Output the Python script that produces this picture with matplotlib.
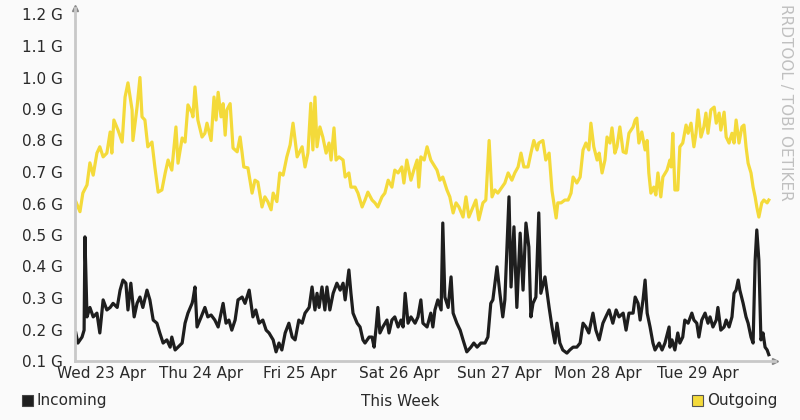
import matplotlib
matplotlib.use("Agg")
import matplotlib.pyplot as plt
from matplotlib.patches import Rectangle

# --- DONNÉES (heures depuis le début du graphe, débit en G) ---
out_hours = [0.2, 1.2, 1.9, 2.9, 3.6, 4.4, 5.3, 6.0, 6.8, 7.7, 8.5, 8.9, 9.4, 10.4, 11.4,
             12.1, 12.8, 13.8, 14.0, 15.0, 15.7, 16.2, 16.9, 17.6, 18.6, 19.3, 20.1, 21.0,
             21.8, 22.5, 23.4, 24.4, 24.9, 25.9, 26.6, 27.3, 28.3,
             28.5, 29.0, 29.7, 30.7, 31.4, 31.9, 32.9, 33.6, 34.1, 34.6, 35.3, 35.8, 36.3,
             36.7, 37.5, 38.2, 39.2, 39.9, 40.4, 40.8, 41.8, 42.8, 43.5, 44.2, 45.2, 45.9,
             46.6, 47.4, 47.9, 48.8, 49.5, 50.3, 51.2, 52.0, 52.7, 53.7, 54.9, 55.6, 56.3, 57.0,
             57.5, 58.0, 58.5, 59.2, 59.9, 60.7, 61.4, 61.9, 62.6, 63.1, 63.8, 64.8, 65.3,
             66.2, 66.7, 67.7, 68.4, 69.4, 70.1, 70.8, 71.8, 72.5, 73.2, 74.2, 74.9, 75.7,
             76.6, 77.3, 78.1, 79.0, 79.5, 80.2, 81.2, 81.9, 82.7, 83.1, 83.6, 84.4, 85.1, 86.0,
             87.5, 88.2, 88.9, 89.9, 90.6, 91.4, 92.1, 92.8, 93.8, 94.5, 95.2, 96.2, 96.9,
             97.6, 98.6, 99.3, 100.1, 100.8, 101.5, 102.2, 103.2, 103.9, 104.7, 105.6, 106.3,
             107.1, 107.8, 108.5, 109.5, 110.2, 110.9, 111.7, 112.1, 113.1, 113.8, 114.6, 115.3,
             116.3, 116.7, 117.5, 118.4, 119.2, 119.9, 120.4, 121.3, 122.1, 122.8, 123.5, 124.2,
             124.7, 125.4, 126.2, 126.7, 127.4, 128.1, 128.6, 129.3, 129.8, 130.5, 131.0, 131.7,
             132.5, 133.2, 133.9, 134.9, 135.4, 135.8, 136.3, 137.0, 137.8, 138.3, 138.7, 139.2,
             139.9, 140.4, 140.9, 141.6, 142.1, 143.1, 143.8,
             144.1, 144.5, 145.0, 145.7, 146.2, 146.9, 147.7, 148.2, 148.9, 149.6, 150.1, 150.6,
             151.3, 152.0, 152.5, 153.0, 153.7, 154.5, 155.0, 155.7, 156.1, 156.9, 157.4, 158.1,
             158.8, 159.3, 159.8, 160.5, 161.2, 161.7, 162.2, 162.7, 163.4, 163.9, 164.4, 164.8,
             165.3, 166.0, 166.5, 167.3, 167.7]
outgoing = [0.606, 0.574, 0.633, 0.659, 0.729, 0.690, 0.760, 0.780, 0.748, 0.760, 0.827, 0.760,
            0.865, 0.833, 0.795, 0.938, 0.983, 0.897, 0.800, 0.906, 1.000, 0.875, 0.865, 0.780,
            0.795, 0.716, 0.636, 0.643, 0.697, 0.738, 0.706, 0.843, 0.728, 0.808, 0.795, 0.913,
            0.887,
            0.875, 0.970, 0.865, 0.811, 0.823, 0.855, 0.800, 0.938, 0.865, 0.953, 0.875, 0.917,
            0.817, 0.897, 0.917, 0.776, 0.764, 0.811, 0.760, 0.716, 0.713, 0.633, 0.674, 0.668,
            0.589, 0.621, 0.606, 0.580, 0.633, 0.606, 0.697, 0.690, 0.748, 0.786, 0.855, 0.748,
            0.780, 0.716, 0.760, 0.918,
            0.770, 0.938, 0.780, 0.843, 0.811, 0.760, 0.792, 0.738, 0.840, 0.738, 0.748, 0.738,
            0.684, 0.697, 0.652, 0.652, 0.633, 0.589, 0.611, 0.636, 0.611, 0.602, 0.589, 0.621,
            0.633, 0.674, 0.652, 0.706, 0.697, 0.716, 0.665, 0.738, 0.674, 0.706, 0.738, 0.652,
            0.748, 0.738, 0.780, 0.738,
            0.706, 0.674, 0.684, 0.643, 0.621, 0.570, 0.602, 0.589, 0.557, 0.621, 0.557, 0.589,
            0.611, 0.548, 0.602, 0.611, 0.800, 0.621, 0.643, 0.633, 0.652, 0.665, 0.697, 0.674,
            0.697, 0.716, 0.760, 0.716, 0.716, 0.760, 0.800, 0.770, 0.792, 0.800, 0.738, 0.760,
            0.640,
            0.554, 0.602, 0.602, 0.611, 0.611, 0.633, 0.684, 0.665, 0.684, 0.770, 0.792, 0.770,
            0.855, 0.780, 0.738, 0.760, 0.697, 0.738, 0.811, 0.792, 0.840, 0.760, 0.780, 0.843,
            0.764, 0.760, 0.823, 0.843, 0.865, 0.871, 0.792, 0.827, 0.770, 0.800, 0.697, 0.633,
            0.652, 0.627, 0.697, 0.621, 0.684, 0.706, 0.738,
            0.716, 0.823, 0.643, 0.643, 0.780, 0.792, 0.849, 0.823, 0.855, 0.780, 0.823, 0.897,
            0.811, 0.843, 0.887, 0.823, 0.897, 0.906, 0.855, 0.887, 0.833, 0.890, 0.811, 0.792,
            0.823, 0.792, 0.865, 0.792, 0.843, 0.849, 0.780, 0.728, 0.697, 0.652, 0.621, 0.589,
            0.557, 0.602, 0.611, 0.602, 0.611]

in_hours = [0.2, 0.7, 1.7, 2.2, 2.4, 2.9, 3.6, 4.4, 5.3, 6.0, 6.8, 7.7, 8.5, 9.2, 10.2, 10.9,
            11.6, 12.3, 12.8, 13.5, 14.3, 15.0, 15.7, 16.4, 17.4, 18.1, 18.9, 19.8, 20.5, 21.3,
            22.2, 23.0, 23.4, 24.2, 24.9, 25.9, 26.6, 27.3, 28.3,
            28.5, 29.0, 29.5, 30.5, 31.4, 32.1, 32.9, 33.8, 34.6, 35.3, 35.8, 36.5, 37.2, 37.9,
            38.7, 39.4, 40.4, 41.1, 42.1, 43.0, 43.7, 44.5, 45.4, 46.2, 46.9, 47.9, 48.6, 49.3,
            50.0, 50.8, 51.7, 52.5, 53.2, 54.1, 54.9, 55.6, 56.6, 57.3,
            58.0, 58.5, 59.0, 59.7, 60.4, 60.9, 61.6, 62.4, 63.3, 64.1, 64.8, 65.3, 66.2, 66.7,
            67.2, 68.2, 68.9, 69.6, 70.1, 71.1, 71.8, 72.3, 72.8, 73.2, 73.7, 74.4, 75.4, 75.9,
            76.6, 77.3, 78.1, 78.8, 79.3, 79.8, 80.5, 81.2, 82.2, 82.9, 83.6, 84.1, 85.1, 86.0,
            86.5, 87.0, 87.7, 88.5, 88.9, 89.4, 90.2, 90.9, 91.4, 92.3, 93.1, 93.8, 94.7, 95.7,
            96.4, 97.2, 98.1, 99.1, 99.8, 100.5, 101.0, 102.0, 102.7, 103.4, 103.9, 104.9,
            105.4, 106.1, 106.8, 107.6, 108.3, 109.0, 109.7, 110.2, 110.7, 111.4, 112.1, 112.6,
            113.6, 114.6, 115.3,
            116.0, 116.5, 117.2, 117.9, 118.9, 119.6, 120.4, 121.3, 122.1, 122.8, 123.5, 124.2,
            125.2, 125.9, 126.7, 127.6, 128.3, 129.1, 130.0, 130.8, 131.5, 132.5, 133.2, 133.9,
            134.9, 135.4, 136.1, 136.6, 137.3, 137.8, 138.3, 139.0, 139.7, 140.2, 141.2, 141.9,
            142.6, 143.6,
            143.8, 144.3, 145.0, 145.7, 146.2, 146.9, 147.4, 148.2, 149.1, 149.6, 150.3, 150.8,
            151.5, 152.3, 153.0, 153.5, 154.2, 155.0, 155.4, 156.1, 156.9, 157.4, 158.1, 158.8,
            159.3, 159.8, 160.3, 160.7, 161.5, 162.2, 162.7, 163.4, 163.9, 164.4, 164.8, 165.3,
            165.8, 166.3, 166.8, 167.3, 167.7]
incoming = [0.189, 0.157, 0.176, 0.198, 0.494, 0.240, 0.270, 0.240, 0.252, 0.189, 0.294, 0.262,
            0.270, 0.283, 0.270, 0.325, 0.357, 0.347, 0.262, 0.347, 0.240, 0.283, 0.303, 0.270,
            0.325, 0.294, 0.230, 0.220, 0.189, 0.157, 0.167, 0.144, 0.176, 0.135, 0.144, 0.157,
            0.220, 0.252, 0.283,
            0.294, 0.335, 0.208, 0.240, 0.270, 0.240, 0.246, 0.230, 0.208, 0.252, 0.283, 0.220,
            0.230, 0.198, 0.230, 0.294, 0.303, 0.283, 0.325, 0.240, 0.262, 0.220, 0.230, 0.198,
            0.189, 0.167, 0.129, 0.157, 0.135, 0.189, 0.220, 0.176, 0.167, 0.230, 0.220, 0.252,
            0.270, 0.335,
            0.262, 0.315, 0.270, 0.335, 0.262, 0.335, 0.262, 0.315, 0.347, 0.325, 0.347, 0.294,
            0.389, 0.315, 0.252, 0.220, 0.208, 0.167, 0.157, 0.176, 0.176, 0.144, 0.208, 0.270,
            0.189, 0.208, 0.230, 0.189, 0.230, 0.240, 0.208, 0.230, 0.208, 0.315, 0.220, 0.240,
            0.220, 0.240, 0.294, 0.220, 0.208, 0.252,
            0.208, 0.262, 0.294, 0.262, 0.538, 0.303, 0.270, 0.367, 0.252, 0.220, 0.198, 0.167,
            0.129, 0.144, 0.157, 0.144, 0.157, 0.157, 0.176, 0.283, 0.294, 0.399, 0.315, 0.240,
            0.294, 0.621, 0.335, 0.526, 0.270, 0.506, 0.325, 0.538, 0.462, 0.240, 0.283, 0.303,
            0.570, 0.315, 0.367, 0.270, 0.208,
            0.157, 0.220, 0.157, 0.135, 0.125, 0.135, 0.144, 0.144, 0.157, 0.220, 0.208, 0.189,
            0.252, 0.198, 0.167, 0.220, 0.240, 0.262, 0.220, 0.262, 0.240, 0.252, 0.198, 0.252,
            0.252, 0.303, 0.283, 0.230, 0.294, 0.357, 0.252, 0.208, 0.157, 0.135, 0.157, 0.135,
            0.157, 0.208,
            0.144, 0.167, 0.135, 0.189, 0.157, 0.176, 0.230, 0.220, 0.252, 0.230, 0.220, 0.176,
            0.230, 0.252, 0.220, 0.240, 0.208, 0.230, 0.270, 0.198, 0.208, 0.230, 0.208, 0.240,
            0.315, 0.325, 0.357, 0.325, 0.283, 0.240, 0.220, 0.176, 0.157, 0.420, 0.516, 0.420,
            0.167, 0.189, 0.144, 0.135, 0.120]

day_labels = ["Wed 23 Apr", "Thu 24 Apr", "Fri 25 Apr", "Sat 26 Apr",
              "Sun 27 Apr", "Mon 28 Apr", "Tue 29 Apr"]
first_midnight = 6.45  # le graphe commence vers 17h30 le mardi
y_ticks = [0.1, 0.2, 0.3, 0.4, 0.5, 0.6, 0.7, 0.8, 0.9, 1.0, 1.1, 1.2]

# --- COULEURS ---
bg = "#fafafa"
c_in = "#1e1e1e"
c_out = "#f4da3a"
c_axis = "#c8c8c8"
c_text = "#2a2a2a"
fs = 11

fig = plt.figure(figsize=(8, 4.2), dpi=100, facecolor=bg)
ax = fig.add_axes([75 / 800, 1 - 361 / 420, 700 / 800, 353 / 420])
ax.set_facecolor(bg)

ax.plot(out_hours, outgoing, color=c_out, lw=2.3, solid_joinstyle="round")
ax.plot(in_hours, incoming, color=c_in, lw=2.3, solid_joinstyle="round")

ax.set_xlim(0, 169.2)
ax.set_ylim(0.1, 0.1 + 353 / 315 * 1.0)

ax.set_yticks(y_ticks)
ax.set_yticklabels([f"{v:.1f} G" for v in y_ticks])
ax.set_xticks([first_midnight + 24 * i for i in range(len(day_labels))])
ax.set_xticklabels(day_labels)
ax.tick_params(axis="y", length=0, pad=8.5, labelsize=fs, labelcolor=c_text)
ax.tick_params(axis="x", length=0, pad=3.5, labelsize=fs, labelcolor=c_text)

for side in ["top", "right"]:
    ax.spines[side].set_visible(False)
for side in ["left", "bottom"]:
    ax.spines[side].set_color(c_axis)
    ax.spines[side].set_linewidth(2)

# petites flèches au bout des axes
ax.plot([0], [1], marker="^", color="#8a8a8a", markersize=5, transform=ax.transAxes, clip_on=False)
ax.plot([1], [0], marker=">", color="#8a8a8a", markersize=5, transform=ax.transAxes, clip_on=False)

# --- LÉGENDE ---
fig.patches.append(Rectangle((22 / 800, 1 - 406 / 420), 11 / 800, 11 / 420,
                             transform=fig.transFigure, facecolor=c_in, edgecolor="#444444", lw=0.8))
fig.text(37 / 800, 1 - 401 / 420, "Incoming", fontsize=fs, color=c_text, va="center", ha="left")
fig.text(0.5, 1 - 401 / 420, "This Week", fontsize=fs, color=c_text, va="center", ha="center")
fig.patches.append(Rectangle((692 / 800, 1 - 406 / 420), 11 / 800, 11 / 420,
                             transform=fig.transFigure, facecolor=c_out, edgecolor="#555555", lw=0.8))
fig.text(707 / 800, 1 - 401 / 420, "Outgoing", fontsize=fs, color=c_text, va="center", ha="left")

fig.text(786 / 800, 1 - 4 / 420, "RRDTOOL / TOBI OETIKER", fontsize=fs, color="#c0c0c0",
         rotation=270, va="top", ha="center")

fig.savefig("out.png", dpi=100, facecolor=bg)
